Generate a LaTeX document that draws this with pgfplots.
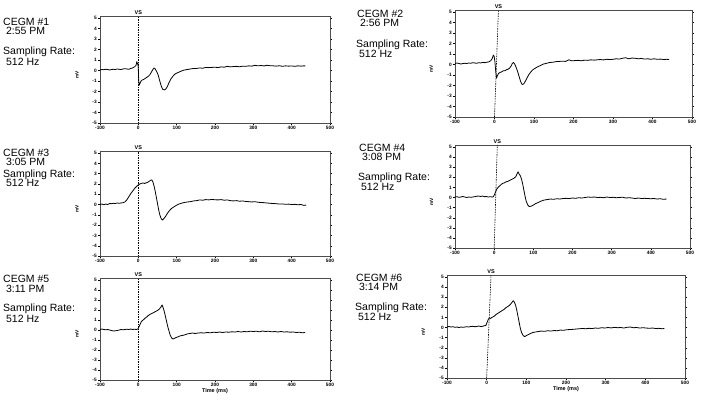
\documentclass[border=0pt]{standalone}
\usepackage{fontspec}
\setmainfont{Liberation Sans}
\setsansfont{Liberation Sans}
\usepackage{pgfplots}
\pgfplotsset{compat=1.18}
\pgfplotsset{egm/.style={
  scale only axis, xmin=-100, xmax=500, ymin=-5, ymax=5.2,
  xtick={-100,0,100,200,300,400,500}, ytick={-5,-4,-3,-2,-1,0,1,2,3,4,5},
  minor x tick num=4, xtick pos=bottom,
  tick align=outside, major tick length=1.6pt, minor tick length=1pt,
  tick style={black, line width=0.4pt},
  ticklabel style={font=\fontsize{4.8}{5}\selectfont\bfseries},
  xticklabel style={inner sep=1.2pt},
  yticklabel style={inner sep=1.5pt},
  /pgf/number format/assume math mode=true,
  axis line style={black!70, line width=0.6pt},
  clip=false,
  ylabel={mV},
  ylabel style={at={(axis description cs:-0.1,0.45)}, anchor=center, font=\fontsize{4.8}{5}\selectfont\bfseries},
  xlabel style={font=\fontsize{5.5}{6}\selectfont\bfseries, inner sep=1pt},
},
trace/.style={black, line width=0.8pt, mark=none, line join=round}}
\newcommand{\vsline}[1]{%
  \addplot[black, line width=0.6pt, dash pattern=on 1.5pt off 1pt, mark=none] coordinates {(0,-5) (#1,5.2)};
  \node[font=\fontsize{5.5}{6}\selectfont\bfseries, anchor=south, inner sep=0.8pt] at (axis cs:#1,5.2) {VS};
}
\begin{document}
\begin{tikzpicture}
\useasboundingbox[fill=white] (0,0) rectangle (702pt,-402pt);

% Panel 1
\begin{axis}[egm, width=230pt, height=107pt, at={(100pt,-123pt)}, anchor=south west]
\vsline{0}
\addplot[trace] coordinates {(-100,0.05)(-95,0.1)(-90,0.08)(-85,0.12)(-80,0.1)(-75,0.05)(-70,0.1)(-65,0.12)(-60,0.1)(-55,0.15)(-50,0.12)(-45,0.1)(-40,0.15)(-35,0.18)(-30,0.15)(-25,0.12)(-20,0.2)(-15,0.25)(-10,0.35)(-6,0.5)(-4,0.85)(-2,0.6)(-1,0.7)(0,0.1)(1,-0.9)(2,-1.4)(4,-1.25)(7,-1.0)(10,-0.9)(14,-0.85)(18,-0.75)(22,-0.65)(26,-0.55)(30,-0.4)(34,-0.15)(38,0.1)(41,0.25)(44,0.15)(48,-0.1)(52,-0.45)(56,-1.0)(60,-1.5)(64,-1.8)(68,-1.85)(72,-1.75)(76,-1.5)(80,-1.15)(85,-0.8)(90,-0.55)(95,-0.35)(100,-0.25)(106,-0.15)(112,-0.05)(120,0.05)(128,0.1)(136,0.15)(144,0.2)(152,0.2)(160,0.25)(168,0.22)(176,0.3)(184,0.28)(192,0.3)(200,0.32)(208,0.28)(216,0.35)(224,0.32)(232,0.4)(240,0.35)(248,0.38)(256,0.4)(264,0.36)(272,0.42)(280,0.4)(288,0.45)(296,0.42)(304,0.5)(312,0.45)(320,0.48)(328,0.44)(336,0.5)(344,0.46)(352,0.45)(360,0.42)(368,0.46)(376,0.4)(384,0.45)(392,0.42)(400,0.44)(408,0.4)(416,0.45)(424,0.42)(432,0.45)(436,0.44)};
\end{axis}

% Panel 2
\begin{axis}[egm, width=237pt, height=107pt, at={(455pt,-117pt)}, anchor=south west]
\vsline{10}
\addplot[trace] coordinates {(-100,0.1)(-95,0.15)(-90,0.1)(-85,0.05)(-80,0.1)(-75,0.12)(-70,0.1)(-65,0.15)(-60,0.12)(-55,0.18)(-50,0.15)(-45,0.12)(-40,0.18)(-35,0.15)(-30,0.2)(-25,0.18)(-20,0.22)(-15,0.25)(-10,0.35)(-6,0.55)(-3,0.9)(-1,0.8)(1,0.3)(3,-0.6)(5,-1.3)(7,-1.1)(10,-0.85)(14,-0.75)(18,-0.7)(22,-0.6)(26,-0.6)(30,-0.5)(34,-0.45)(38,-0.35)(42,-0.15)(45,0.1)(48,0.2)(51,0.05)(54,-0.2)(58,-0.6)(62,-1.1)(66,-1.6)(70,-1.9)(74,-1.85)(78,-1.6)(82,-1.3)(87,-0.95)(92,-0.7)(97,-0.5)(103,-0.35)(110,-0.2)(117,-0.08)(124,0.05)(132,0.12)(140,0.2)(148,0.22)(156,0.28)(164,0.3)(172,0.32)(180,0.3)(188,0.45)(196,0.35)(204,0.38)(212,0.4)(220,0.36)(228,0.42)(236,0.4)(244,0.45)(252,0.42)(260,0.45)(268,0.48)(276,0.44)(284,0.5)(292,0.48)(300,0.5)(308,0.55)(316,0.52)(324,0.6)(332,0.65)(340,0.55)(348,0.62)(356,0.6)(364,0.55)(372,0.58)(380,0.52)(388,0.55)(396,0.5)(404,0.55)(412,0.5)(420,0.52)(428,0.48)(436,0.5)(442,0.48)};
\end{axis}

% Panel 3
\begin{axis}[egm, width=230pt, height=105pt, at={(100pt,-256pt)}, anchor=south west]
\vsline{0}
\addplot[trace] coordinates {(-100,0.0)(-95,0.05)(-90,-0.02)(-85,0.05)(-80,0.0)(-75,0.1)(-70,0.08)(-65,0.12)(-60,0.1)(-55,0.15)(-50,0.12)(-45,0.15)(-40,0.18)(-35,0.25)(-30,0.45)(-25,0.75)(-20,1.05)(-15,1.3)(-10,1.55)(-5,1.75)(0,1.9)(4,2.0)(8,2.05)(12,2.1)(16,2.05)(20,2.1)(24,2.15)(28,2.25)(32,2.35)(35,2.4)(38,2.2)(41,1.8)(44,1.3)(47,0.7)(50,0.1)(53,-0.5)(56,-1.0)(60,-1.4)(63,-1.5)(67,-1.35)(71,-1.15)(76,-0.85)(81,-0.6)(86,-0.4)(92,-0.25)(98,-0.1)(104,0.02)(112,0.12)(120,0.2)(128,0.25)(136,0.28)(144,0.35)(152,0.38)(160,0.45)(168,0.42)(176,0.48)(184,0.45)(192,0.5)(200,0.46)(208,0.45)(216,0.48)(224,0.42)(232,0.45)(240,0.38)(248,0.35)(256,0.38)(264,0.32)(272,0.35)(280,0.3)(288,0.28)(296,0.25)(304,0.28)(312,0.22)(320,0.2)(328,0.18)(336,0.15)(344,0.12)(352,0.1)(360,0.08)(368,0.05)(376,0.06)(384,0.02)(392,0.04)(400,0.0)(408,0.02)(416,-0.02)(424,0.0)(432,-0.08)(438,-0.05)};
\end{axis}

% Panel 4
\begin{axis}[egm, width=235pt, height=103pt, at={(455pt,-248pt)}, anchor=south west]
\vsline{8}
\addplot[trace] coordinates {(-100,0.05)(-95,0.08)(-90,0.02)(-85,0.05)(-80,0.1)(-75,0.05)(-70,0.0)(-65,0.05)(-60,0.02)(-55,0.05)(-50,0.08)(-45,0.12)(-40,0.15)(-35,0.1)(-30,0.15)(-25,0.08)(-20,0.1)(-15,0.05)(-10,0.08)(-5,0.05)(-2,0.08)(1,0.3)(4,0.6)(7,0.85)(10,1.0)(14,1.15)(18,1.3)(22,1.4)(26,1.45)(30,1.55)(35,1.6)(40,1.7)(45,1.8)(50,1.9)(55,2.05)(58,2.3)(61,2.55)(64,2.3)(67,2.15)(70,1.8)(73,1.3)(76,0.7)(79,0.1)(82,-0.4)(86,-0.75)(90,-0.9)(95,-0.85)(100,-0.75)(106,-0.6)(112,-0.5)(120,-0.35)(128,-0.25)(136,-0.2)(144,-0.15)(152,-0.18)(160,-0.12)(168,-0.15)(176,-0.1)(184,-0.08)(192,-0.1)(200,-0.05)(208,-0.08)(216,-0.02)(224,-0.05)(232,0.0)(240,0.05)(248,0.02)(256,0.05)(264,0.0)(272,0.02)(280,-0.02)(288,0.05)(296,0.0)(304,0.02)(312,-0.02)(320,0.0)(328,0.03)(336,-0.05)(344,-0.02)(352,-0.05)(360,-0.1)(368,-0.05)(376,-0.1)(384,-0.08)(392,-0.1)(400,-0.12)(408,-0.1)(416,-0.15)(424,-0.12)(432,-0.18)(440,-0.15)};
\end{axis}

% Panel 5
\begin{axis}[egm, width=230pt, height=102pt, at={(100pt,-380pt)}, anchor=south west, xlabel={Time (ms)}]
\vsline{0}
\addplot[trace] coordinates {(-100,0.05)(-95,0.1)(-90,0.05)(-85,0.02)(-80,0.05)(-75,0.0)(-70,-0.05)(-65,-0.1)(-60,-0.08)(-55,-0.05)(-50,0.0)(-45,0.05)(-40,0.02)(-35,0.05)(-30,0.08)(-25,0.05)(-20,0.1)(-15,0.05)(-10,0.08)(-5,0.05)(-1,0.1)(2,0.35)(5,0.6)(8,0.85)(11,0.95)(14,1.05)(18,1.2)(22,1.3)(26,1.45)(30,1.55)(35,1.65)(40,1.75)(45,1.85)(50,1.95)(55,2.1)(59,2.3)(62,2.5)(65,2.2)(68,1.8)(71,1.3)(74,0.8)(77,0.3)(80,-0.1)(83,-0.5)(87,-0.8)(90,-0.9)(94,-0.85)(98,-0.75)(103,-0.7)(108,-0.6)(114,-0.55)(120,-0.5)(127,-0.4)(134,-0.35)(141,-0.3)(148,-0.35)(156,-0.3)(164,-0.28)(172,-0.3)(180,-0.25)(188,-0.28)(196,-0.22)(204,-0.25)(212,-0.2)(220,-0.25)(228,-0.2)(236,-0.22)(244,-0.18)(252,-0.2)(260,-0.15)(268,-0.2)(276,-0.15)(284,-0.18)(292,-0.12)(300,-0.15)(308,-0.12)(316,-0.18)(324,-0.1)(332,-0.15)(340,-0.12)(348,-0.18)(356,-0.15)(364,-0.2)(372,-0.15)(380,-0.2)(388,-0.18)(396,-0.22)(404,-0.2)(412,-0.25)(420,-0.22)(428,-0.28)(435,-0.25)};
\end{axis}

% Panel 6
\begin{axis}[egm, width=238pt, height=103pt, at={(447pt,-378pt)}, anchor=south west, xlabel={Time (ms)}]
\vsline{11}
\addplot[trace] coordinates {(-100,0.05)(-95,0.1)(-90,0.05)(-85,0.08)(-80,0.02)(-75,0.05)(-70,0.0)(-65,0.05)(-60,0.02)(-55,0.05)(-50,0.08)(-45,0.05)(-40,0.1)(-35,0.12)(-30,0.08)(-25,0.1)(-20,0.15)(-15,0.1)(-10,0.12)(-6,0.18)(-2,0.2)(1,0.5)(4,0.8)(7,0.95)(10,0.9)(13,1.0)(16,1.05)(20,1.15)(24,1.3)(28,1.4)(32,1.5)(36,1.6)(40,1.7)(44,1.8)(48,1.95)(52,2.05)(56,2.15)(60,2.3)(64,2.5)(67,2.65)(70,2.5)(73,2.2)(76,1.7)(79,1.1)(82,0.5)(85,-0.1)(88,-0.5)(92,-0.8)(96,-0.9)(100,-0.8)(105,-0.7)(110,-0.6)(116,-0.5)(122,-0.45)(130,-0.4)(138,-0.35)(146,-0.38)(154,-0.32)(162,-0.35)(170,-0.3)(178,-0.32)(186,-0.25)(194,-0.28)(202,-0.22)(210,-0.2)(218,-0.18)(226,-0.15)(234,-0.12)(242,-0.1)(250,-0.12)(258,-0.08)(266,-0.1)(274,-0.05)(282,-0.08)(290,-0.02)(298,-0.05)(306,0.0)(314,-0.04)(322,0.02)(330,-0.02)(338,0.0)(346,-0.05)(354,0.02)(362,0.05)(370,-0.02)(378,0.0)(386,-0.05)(394,-0.02)(402,-0.05)(410,-0.08)(418,-0.05)(426,-0.1)(434,-0.08)(442,-0.12)(448,-0.1)};
\end{axis}

% Text labels
\begin{scope}[every node/.style={anchor=base west, inner sep=0pt, font=\fontsize{10.5}{12}\selectfont}]
\node at (3pt,-25pt) {CEGM \#1};
\node at (3pt,-34pt) {\ 2:55 PM};
\node at (3pt,-54pt) {Sampling Rate:};
\node at (3pt,-65pt) {\ 512 Hz};

\node at (3pt,-156pt) {CEGM \#3};
\node at (3pt,-165pt) {\ 3:05 PM};
\node at (3pt,-177pt) {Sampling Rate:};
\node at (3pt,-186pt) {\ 512 Hz};

\node at (3pt,-282pt) {CEGM \#5};
\node at (3pt,-292pt) {\ 3:11 PM};
\node at (3pt,-311pt) {Sampling Rate:};
\node at (3pt,-322pt) {\ 512 Hz};

\node at (357pt,-17pt) {CEGM \#2};
\node at (357pt,-26pt) {\ 2:56 PM};
\node at (356pt,-47pt) {Sampling Rate:};
\node at (356pt,-57pt) {\ 512 Hz};

\node at (359pt,-151pt) {CEGM \#4};
\node at (359pt,-160pt) {\ 3:08 PM};
\node at (358pt,-180pt) {Sampling Rate:};
\node at (358pt,-190pt) {\ 512 Hz};

\node at (356pt,-281pt) {CEGM \#6};
\node at (356pt,-290pt) {\ 3:14 PM};
\node at (355pt,-310pt) {Sampling Rate:};
\node at (355pt,-320pt) {\ 512 Hz};
\end{scope}
\end{tikzpicture}
\end{document}
